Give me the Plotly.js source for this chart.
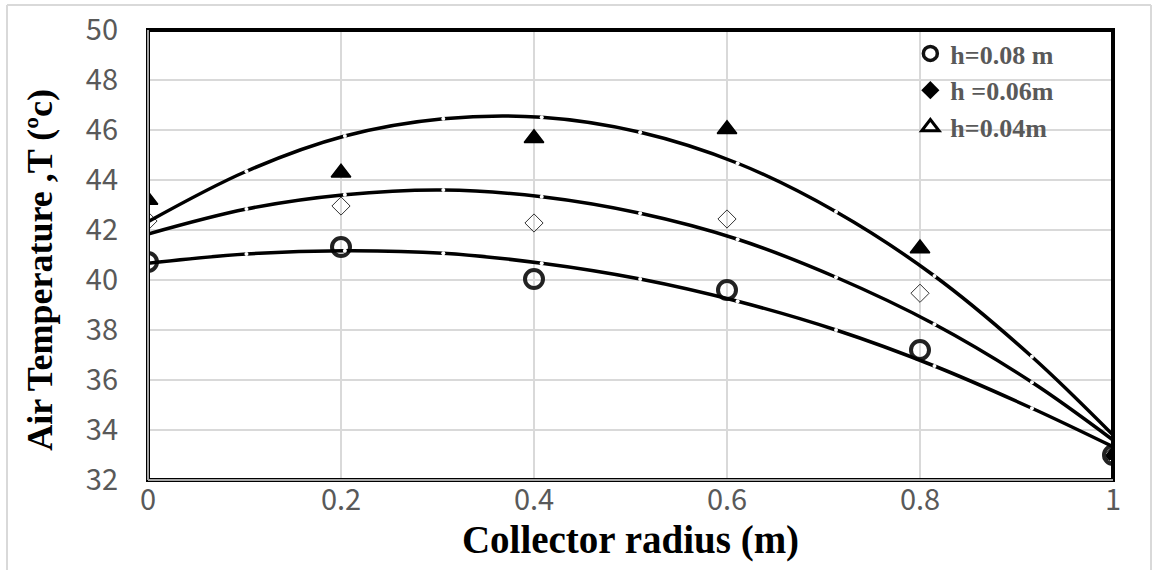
<!DOCTYPE html>
<html>
<head>
<meta charset="utf-8">
<script src="https://cdn.plot.ly/plotly-3.0.1.min.js"></script>
<style>html,body{margin:0;padding:0;background:#fff;}#chart{width:1154px;height:573px;}</style>
</head>
<body>
<div id="chart"></div>
<script>
// Measured data points
const radius = [0, 0.2, 0.4, 0.6, 0.8, 1];
const temp_h008 = [40.72, 41.32, 40.04, 39.6, 37.2, 33.0];
const temp_h006 = [42.36, 42.96, 42.28, 42.44, 39.47, 33.0];
const temp_h004 = [43.2, 44.29, 45.67, 46.03, 41.26, 33.0];

// Smooth fitted curves
const curveX = [0, 0.102, 0.204, 0.306, 0.408, 0.51, 0.611, 0.713, 0.815, 0.916, 1.0];
const curve_h008 = [40.67, 41.04, 41.17, 41.07, 40.67, 40.04, 39.15, 38.0, 36.56, 34.87, 33.33];
const curve_h006 = [41.84, 42.84, 43.41, 43.6, 43.33, 42.67, 41.63, 40.11, 38.23, 35.91, 33.6];
const curve_h004 = [42.33, 44.35, 45.76, 46.45, 46.51, 45.91, 44.67, 42.73, 40.16, 36.93, 33.8];

const legendLabels = ['h=0.08 m', 'h =0.06m', 'h=0.04m'];
const xTickVals = [0, 0.2, 0.4, 0.6, 0.8, 1];
const xTickText = ['0', '0.2', '0.4', '0.6', '0.8', '1'];
const yTickVals = [32, 34, 36, 38, 40, 42, 44, 46, 48, 50];
const xTitle = '<b>Collector radius (m)</b>';
const yTitle = '<b>Air Temperature ,T (ºc)</b>';

const serif = 'Liberation Serif, Times New Roman, serif';
const tickFont = {family: 'Noto Sans CJK JP, Noto Sans, sans-serif', size: 29, color: '#595959'};

const markerTraces = [
  {x: radius, y: temp_h004, mode: 'markers', type: 'scatter', showlegend: false,
   marker: {symbol: 'triangle-up', size: 17, color: '#000', line: {color: '#000', width: 1.5}}},
  {x: radius, y: temp_h006, mode: 'markers', type: 'scatter', showlegend: false,
   marker: {symbol: 'diamond-open', size: 14, color: '#333', line: {color: '#333', width: 1}}},
  {x: radius, y: temp_h008, mode: 'markers', type: 'scatter', showlegend: false,
   marker: {symbol: 'circle-open', size: 18, color: '#222', line: {color: '#222', width: 4}}}
];

function curve(y) {
  return {x: curveX, y: y, mode: 'lines+markers', type: 'scatter', showlegend: false,
    line: {color: '#000', width: 3.5, shape: 'spline', smoothing: 1},
    marker: {symbol: 'circle', size: 4, color: '#fff', line: {width: 0}}};
}
const curveTraces = [curve(curve_h008), curve(curve_h006), curve(curve_h004)];

const legendTraces = [
  {x: [null], y: [null], mode: 'markers', type: 'scatter', name: legendLabels[0], legendgroup: 'a',
   marker: {symbol: 'circle-open', size: 14, color: '#111', line: {color: '#111', width: 3.5}}},
  {x: [null], y: [null], mode: 'markers', type: 'scatter', name: legendLabels[1], legendgroup: 'b',
   marker: {symbol: 'diamond', size: 14, color: '#000', line: {color: '#000', width: 0}}},
  {x: [null], y: [null], mode: 'markers', type: 'scatter', name: legendLabels[2], legendgroup: 'c',
   marker: {symbol: 'triangle-up-open', size: 15, color: '#000', line: {color: '#000', width: 3}}}
];

const layout = {
  width: 1154, height: 573,
  margin: {l: 148, r: 41, t: 30, b: 93},
  paper_bgcolor: '#fff', plot_bgcolor: '#fff',
  showlegend: true,
  legend: {x: 0.79, y: 1.0, xanchor: 'left', yanchor: 'top', bgcolor: 'rgba(0,0,0,0)',
    traceorder: 'grouped', tracegroupgap: 0, itemwidth: 30,
    font: {family: serif, size: 26, color: '#595959', weight: 'bold'}},
  xaxis: {range: [0, 1], tickvals: xTickVals, ticktext: xTickText, showgrid: true,
    gridcolor: '#d9d9d9', gridwidth: 1.5, zeroline: false, showline: false,
    ticks: '', ticklabelstandoff: 0, tickfont: tickFont,
    title: {text: xTitle, font: {family: serif, size: 39, color: '#000'}, standoff: 2}},
  yaxis: {range: [32, 50], tickvals: yTickVals, showgrid: true, gridcolor: '#d9d9d9', gridwidth: 1.5,
    zeroline: false, showline: false, ticks: '', ticklabelstandoff: 29, tickfont: tickFont},
  annotations: [
    {text: yTitle, xref: 'paper', yref: 'paper', x: -0.1119, y: 0.467, xanchor: 'center', yanchor: 'middle',
     textangle: -90, showarrow: false, font: {family: serif, size: 36, color: '#000'}}
  ],
  shapes: [
    {type: 'rect', xref: 'paper', yref: 'paper', x0: 0, x1: 1, y0: 0, y1: 1, line: {color: '#000', width: 4}, layer: 'above'},
    {type: 'line', xref: 'paper', yref: 'paper', x0: 0, x1: 0, y0: 0, y1: 1, line: {color: '#a6a6a6', width: 2}, layer: 'above'},
    {type: 'line', xref: 'paper', yref: 'paper', x0: 0, x1: 1, y0: 0, y1: 0, line: {color: '#a6a6a6', width: 2}, layer: 'above'},
    {type: 'line', xref: 'paper', yref: 'paper', x0: -0.1461, x1: -0.1461, y0: -0.2, y1: 1.0556, line: {color: '#d9d9d9', width: 2}},
    {type: 'line', xref: 'paper', yref: 'paper', x0: -0.1461, x1: 1.0394, y0: 1.0556, y1: 1.0556, line: {color: '#d9d9d9', width: 2}},
    {type: 'line', xref: 'paper', yref: 'paper', x0: 1.0394, x1: 1.0394, y0: -0.2, y1: 1.0556, line: {color: '#d9d9d9', width: 2}}
  ]
};

Plotly.newPlot('chart', markerTraces.concat(curveTraces, legendTraces), layout, {displayModeBar: false, staticPlot: true});
</script>
</body>
</html>
